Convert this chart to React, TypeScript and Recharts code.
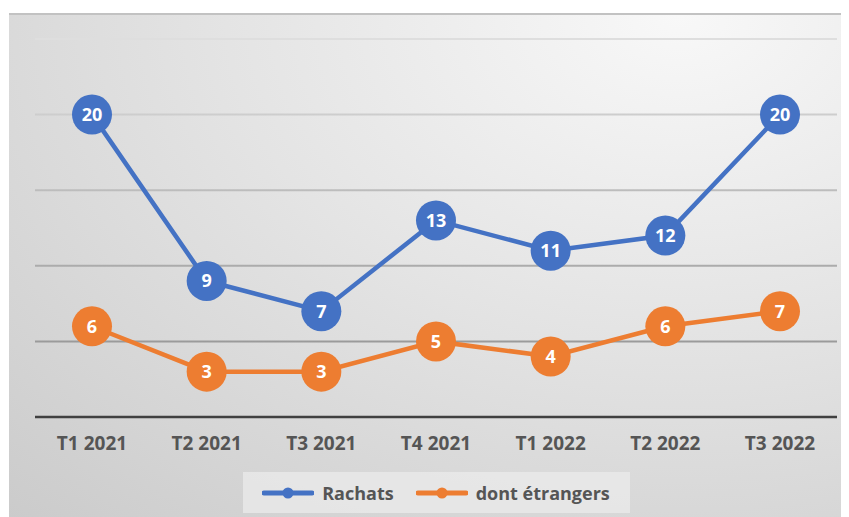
import React from "react";
import { LineChart, Line, XAxis, YAxis, CartesianGrid, Legend, LabelList } from "recharts";

const categories = ["T1 2021", "T2 2021", "T3 2021", "T4 2021", "T1 2022", "T2 2022", "T3 2022"];
const rachats = [20, 9, 7, 13, 11, 12, 20];
const etrangers = [6, 3, 3, 5, 4, 6, 7];
const yTicks = [0, 5, 10, 15, 20, 25];
const seriesNames = { rachats: "Rachats", etrangers: "dont étrangers" };

const BLUE = "#4472C4";
const ORANGE = "#ED7D31";
const TEXT = "#555555";
const FONT = "'Open Sans', 'Liberation Sans', sans-serif";

const data = categories.map((c, i) => ({ cat: c, rachats: rachats[i], etrangers: etrangers[i] }));

const LegendContent = (props: any) => {
  const items = props.payload || [];
  return (
    <div style={{ display: "flex", justifyContent: "center" }}>
      <div
        style={{
          width: 387,
          height: 41,
          background: "rgba(235,235,235,0.75)",
          display: "flex",
          alignItems: "center",
          justifyContent: "center",
          gap: 22,
        }}
      >
        {items.map((it: any) => (
          <div key={it.value} style={{ display: "flex", alignItems: "center", gap: 8 }}>
            <svg width={52} height={14}>
              <line x1={2} y1={7} x2={50} y2={7} stroke={it.color} strokeWidth={5} strokeLinecap="round" />
              <circle cx={26} cy={7} r={5.5} fill={it.color} />
            </svg>
            <span style={{ fontFamily: FONT, fontWeight: 700, fontSize: 18, color: TEXT }}>{it.value}</span>
          </div>
        ))}
      </div>
    </div>
  );
};

export default function App() {
  return (
    <div
      style={{
        marginLeft: 1,
        marginTop: 5,
        width: 838,
        height: 504,
        boxSizing: "border-box",
        borderTop: "2px solid #c2c2c2",
        background: "radial-gradient(ellipse 120% 140% at 80% 0%, #f8f8f8 0%, #e4e4e4 45%, #cacaca 100%)",
        position: "relative",
      }}
    >
      <LineChart width={838} height={502} data={data} margin={{ top: 24, right: 10, left: 26, bottom: 4 }}>
        <defs>
          <linearGradient id="gridGrad" gradientUnits="userSpaceOnUse" x1="0" y1="24" x2="0" y2="401">
            <stop offset="0%" stopColor="#dedede" />
            <stop offset="100%" stopColor="#8a8a8a" />
          </linearGradient>
        </defs>
        <CartesianGrid vertical={false} stroke="url(#gridGrad)" strokeWidth={2} />
        <YAxis hide domain={[0, 25]} ticks={yTicks} />
        <XAxis
          dataKey="cat"
          height={55}
          padding={{ left: 57, right: 57 }}
          axisLine={{ stroke: "#404040", strokeWidth: 2.5 }}
          tickLine={false}
          tickMargin={14}
          tick={{ fill: TEXT, fontFamily: FONT, fontWeight: 700, fontSize: 19 }}
        />
        <Legend verticalAlign="bottom" height={41} content={<LegendContent />} />
        <Line
          dataKey="rachats"
          name={seriesNames.rachats}
          stroke={BLUE}
          strokeWidth={4.5}
          dot={{ r: 20, fill: BLUE, stroke: "none" }}
          activeDot={false}
          isAnimationActive={false}
        >
          <LabelList dataKey="rachats" position="center" fill="#fff" fontFamily={FONT} fontWeight={700} fontSize={18} />
        </Line>
        <Line
          dataKey="etrangers"
          name={seriesNames.etrangers}
          stroke={ORANGE}
          strokeWidth={4.5}
          dot={{ r: 20, fill: ORANGE, stroke: "none" }}
          activeDot={false}
          isAnimationActive={false}
        >
          <LabelList dataKey="etrangers" position="center" fill="#fff" fontFamily={FONT} fontWeight={700} fontSize={18} />
        </Line>
      </LineChart>
    </div>
  );
}
